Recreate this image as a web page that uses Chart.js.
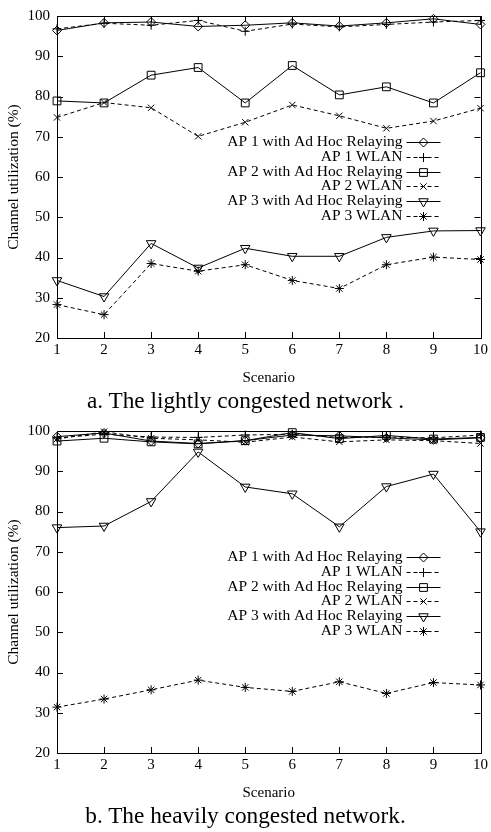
<!DOCTYPE html>
<html><head><meta charset="utf-8">
<script src="https://cdn.jsdelivr.net/npm/chart.js@4.4.1/dist/chart.umd.min.js"></script>
<style>
html,body{margin:0;padding:0;background:#fff;width:491px;height:832px;overflow:hidden;}
.wrap{position:absolute;left:0;width:491px;height:388px;}
.cap{position:absolute;left:0;width:491px;text-align:center;font-family:'Liberation Serif',serif;font-size:23.3px;color:#000;line-height:26px;white-space:nowrap;}
</style></head><body>
<div class="wrap" style="top:0"><canvas id="ca" width="491" height="388"></canvas></div>
<div class="cap" style="top:387px">a. The lightly congested network .</div>
<div class="wrap" style="top:415px"><canvas id="cb" width="491" height="388"></canvas></div>
<div class="cap" style="top:802px">b. The heavily congested network.</div>
<script>
// ---- data ----
const scenarios = ['1','2','3','4','5','6','7','8','9','10'];
const seriesNames = ['AP 1 with Ad Hoc Relaying','AP 1 WLAN','AP 2 with Ad Hoc Relaying','AP 2 WLAN','AP 3 with Ad Hoc Relaying','AP 3 WLAN'];
const xTitle = 'Scenario';
const yTitle = 'Channel utilization (%)';
const yMin = 20, yMax = 100, yStep = 10;

// a. lightly congested
const a_ap1Relay = [96.4, 98.3, 98.5, 97.4, 97.7, 98.3, 97.5, 98.3, 99.3, 97.9];
const a_ap1Wlan  = [96.8, 98.2, 97.7, 98.9, 96.2, 98.0, 97.3, 97.9, 98.5, 98.9];
const a_ap2Relay = [78.9, 78.4, 85.3, 87.2, 78.4, 87.7, 80.4, 82.4, 78.4, 85.9];
const a_ap2Wlan  = [74.8, 78.5, 77.2, 70.1, 73.6, 77.9, 75.2, 72.1, 73.9, 77.1];
const a_ap3Relay = [34.3, 30.3, 43.5, 37.4, 42.3, 40.3, 40.3, 45.0, 46.6, 46.7];
const a_ap3Wlan  = [28.3, 25.8, 38.5, 36.6, 38.2, 34.3, 32.3, 38.2, 40.1, 39.5];

// b. heavily congested
const b_ap1Relay = [98.6, 99.5, 97.5, 96.9, 97.6, 99.0, 98.8, 98.3, 97.8, 98.3];
const b_ap1Wlan  = [98.3, 99.2, 98.5, 98.4, 99.0, 99.2, 98.4, 98.5, 98.3, 99.0];
const b_ap2Relay = [97.5, 98.2, 97.3, 96.8, 97.6, 99.6, 98.1, 98.9, 98.0, 98.4];
const b_ap2Wlan  = [98.0, 99.8, 98.2, 97.8, 97.2, 98.5, 97.3, 97.8, 97.6, 96.9];
const b_ap3Relay = [76.0, 76.4, 82.5, 94.8, 86.1, 84.4, 76.2, 86.2, 89.3, 75.0];
const b_ap3Wlan  = [31.4, 33.4, 35.7, 38.1, 36.3, 35.3, 37.7, 34.8, 37.5, 36.9];

// ---- styles ----
const FONT = "'Liberation Serif', 'Times New Roman', serif";
const styles = [
  {pointStyle:'rectRot', radius:4.5, rotation:0, dash:[]},
  {pointStyle:'cross', radius:4.5, rotation:0, dash:[4,3]},
  {pointStyle:'rect', radius:5.5, rotation:0, dash:[]},
  {pointStyle:'crossRot', radius:4.5, rotation:0, dash:[4,3]},
  {pointStyle:'triangle', radius:5.5, rotation:180, dash:[]},
  {pointStyle:'star', radius:4.5, rotation:0, dash:[4,3]}
];

function buildDatasets(arrs){
  return arrs.map((d,i)=>({
    label: seriesNames[i],
    data: d,
    borderColor:'#000',
    backgroundColor:'rgba(0,0,0,0)',
    borderWidth:1,
    borderDash: styles[i].dash,
    pointStyle: styles[i].pointStyle,
    pointRadius: styles[i].radius,
    pointHoverRadius: styles[i].radius,
    pointRotation: styles[i].rotation,
    pointBorderColor:'#000',
    pointBackgroundColor:'rgba(0,0,0,0)',
    pointBorderWidth:1,
    tension:0,
    clip:10
  }));
}

const framePlugin = {
  id:'gnuframe',
  afterDatasetsDraw(chart){
    const {ctx, chartArea:a} = chart;
    const xs = chart.scales.x, ys = chart.scales.y;
    ctx.save();
    ctx.strokeStyle='#000'; ctx.lineWidth=1; ctx.setLineDash([]);
    ctx.strokeRect(Math.round(a.left)+0.5, Math.round(a.top)+0.5, Math.round(a.right-a.left), Math.round(a.bottom-a.top));
    ctx.beginPath();
    const T = 6;
    xs.ticks.forEach((t,i)=>{
      const px = Math.round(xs.getPixelForTick(i))+0.5;
      ctx.moveTo(px, a.bottom); ctx.lineTo(px, a.bottom-T);
      ctx.moveTo(px, a.top); ctx.lineTo(px, a.top+T);
    });
    ys.ticks.forEach((t,i)=>{
      const py = Math.round(ys.getPixelForTick(i))+0.5;
      ctx.moveTo(a.left, py); ctx.lineTo(a.left+T, py);
      ctx.moveTo(a.right, py); ctx.lineTo(a.right-T, py);
    });
    ctx.stroke();
    ctx.restore();
  },
  afterDraw(chart){
    const {ctx, chartArea:a} = chart;
    ctx.save();
    ctx.font = "15.5px " + FONT;
    ctx.fillStyle='#000';
    ctx.textAlign='right';
    ctx.textBaseline='middle';
    const textRight = a.right - 78;
    const lx0 = a.right - 74, lx1 = a.right - 40, mx = (lx0+lx1)/2;
    chart.data.datasets.forEach((ds,i)=>{
      const y = a.top + 126 + i*14.8;
      ctx.fillText(ds.label, textRight, y);
      ctx.strokeStyle='#000'; ctx.lineWidth=1;
      ctx.setLineDash(ds.borderDash||[]);
      ctx.beginPath(); ctx.moveTo(lx0, Math.round(y)+0.5); ctx.lineTo(lx1, Math.round(y)+0.5); ctx.stroke();
      ctx.setLineDash([]);
      ctx.fillStyle='rgba(0,0,0,0)';
      Chart.helpers.drawPoint(ctx, {pointStyle:ds.pointStyle, rotation:ds.pointRotation, radius:ds.pointRadius, borderWidth:1}, mx, Math.round(y)+0.5);
      ctx.fillStyle='#000';
    });
    ctx.restore();
  }
};

function makeChart(id, arrs){
  return new Chart(document.getElementById(id), {
    type:'line',
    data:{labels:scenarios, datasets:buildDatasets(arrs)},
    plugins:[framePlugin],
    options:{
      responsive:false,
      animation:false,
      layout:{padding:{left:0,right:9,top:14,bottom:0}},
      plugins:{legend:{display:false}, tooltip:{enabled:false}},
      scales:{
        x:{
          type:'category', offset:false,
          grid:{display:false, drawTicks:false},
          border:{display:false},
          ticks:{color:'#000', font:{family:FONT,size:15}, padding:3, maxRotation:0, autoSkip:false},
          title:{display:true, text:xTitle, color:'#000', font:{family:FONT,size:15}, padding:{top:0,bottom:1}},
          afterFit(s){ s.height = 50; }
        },
        y:{
          min:yMin, max:yMax,
          grid:{display:false, drawTicks:false},
          border:{display:false},
          ticks:{stepSize:yStep, color:'#000', font:{family:FONT,size:15}, padding:7},
          title:{display:true, text:yTitle, color:'#000', font:{family:FONT,size:15.5}, padding:{top:5,bottom:0}},
          afterFit(s){ s.width = 57; }
        }
      }
    }
  });
}

makeChart('ca', [a_ap1Relay,a_ap1Wlan,a_ap2Relay,a_ap2Wlan,a_ap3Relay,a_ap3Wlan]);
makeChart('cb', [b_ap1Relay,b_ap1Wlan,b_ap2Relay,b_ap2Wlan,b_ap3Relay,b_ap3Wlan]);
</script>
</body></html>
